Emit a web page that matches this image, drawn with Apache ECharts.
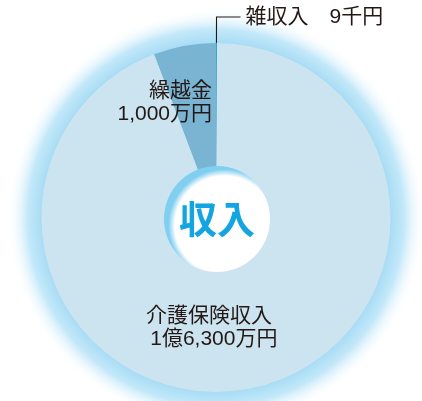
<!DOCTYPE html>
<html>
<head>
<meta charset="utf-8">
<script src="https://cdn.jsdelivr.net/npm/echarts@6/dist/echarts.min.js"></script>
<style>
html,body{margin:0;padding:0;background:#fff;}
#c{width:422px;height:401px;}
</style>
</head>
<body>
<div id="c"></div>
<script>
// Data (unit: 万円)
const categories = ['雑収入', '介護保険収入', '繰越金'];
const values = [0.9, 16300, 1000];
const labelTexts = ['雑収入\u30009千円', '介護保険収入\n\u20091億6,300万円', '繰越金\n1,000万円'];
const centerTitle = '収入';

const sliceColors = ['#1b98cc', '#cbe4f0', '#79b4d2'];
const FONT = '"Liberation Sans", "Noto Sans CJK JP", sans-serif';
const CJK_FONT = '"Noto Sans CJK JP", sans-serif';
const CENTER = [216, 217.5];

const chart = echarts.init(document.getElementById('c'), null, {renderer: 'canvas'});

const labelPlaces = {
  '繰越金': {x: 212, y: 103, align: 'right', verticalAlign: 'middle'},
  '介護保険収入': {x: 146, y: 328, align: 'left', verticalAlign: 'middle'}
};

const pieData = categories.map((name, i) => {
  const item = {
    name: name,
    value: values[i],
    itemStyle: {color: sliceColors[i]},
    label: {
      show: true,
      formatter: labelTexts[i],
      position: i === 0 ? 'outside' : 'inside',
      color: '#231815',
      fontSize: 21,
      lineHeight: 23,
      fontFamily: FONT
    }
  };
  if (i === 0) {
    item.itemStyle.borderColor = sliceColors[i];
    item.itemStyle.borderWidth = 0.9;
    item.labelLine = {show: true, length: 26, length2: 24, smooth: false,
      minTurnAngle: 60, maxSurfaceAngle: 180,
      lineStyle: {color: '#231815', width: 1.1}};
  } else {
    item.labelLine = {show: false};
  }
  return item;
});

const option = {
  animation: false,
  backgroundColor: '#fff',
  series: [
    {
      type: 'pie',
      silent: true,
      z: 0,
      center: CENTER,
      radius: [172, 209],
      label: {show: false},
      labelLine: {show: false},
      emphasis: {disabled: true},
      data: [{
        value: 1,
        itemStyle: {
          color: new echarts.graphic.RadialGradient(0.5, 0.5, 0.5, [
            {offset: 0.82, color: '#a2daf4'},
            {offset: 0.9, color: '#c3e8f9'},
            {offset: 1, color: 'rgba(255,255,255,0)'}
          ])
        }
      }]
    },
    {
      type: 'pie',
      silent: true,
      z: 5,
      center: CENTER,
      radius: [50, 174.5],
      startAngle: 90,
      clockwise: true,
      minAngle: 0.3,
      avoidLabelOverlap: false,
      emphasis: {disabled: true},
      itemStyle: {borderWidth: 0},
      labelLayout: function (p) {
        const place = labelPlaces[categories[p.dataIndex]];
        return place ? place : {};
      },
      data: pieData
    },
    {
      type: 'pie',
      silent: true,
      z: 6,
      center: [217, 219],
      radius: [0, 53],
      emphasis: {disabled: true},
      labelLine: {show: false},
      data: [{
        value: 1,
        name: centerTitle,
        itemStyle: {
          color: new echarts.graphic.RadialGradient(0.57, 0.56, 0.53, [
            {offset: 0.88, color: '#ffffff'},
            {offset: 1, color: '#80cef0'}
          ])
        },
        label: {
          show: true,
          position: 'center',
          formatter: centerTitle,
          color: '#12a5e2',
          fontSize: 38,
          fontWeight: 'bold',
          fontFamily: CJK_FONT
        }
      }]
    }
  ]
};
chart.setOption(option);
</script>
</body>
</html>
